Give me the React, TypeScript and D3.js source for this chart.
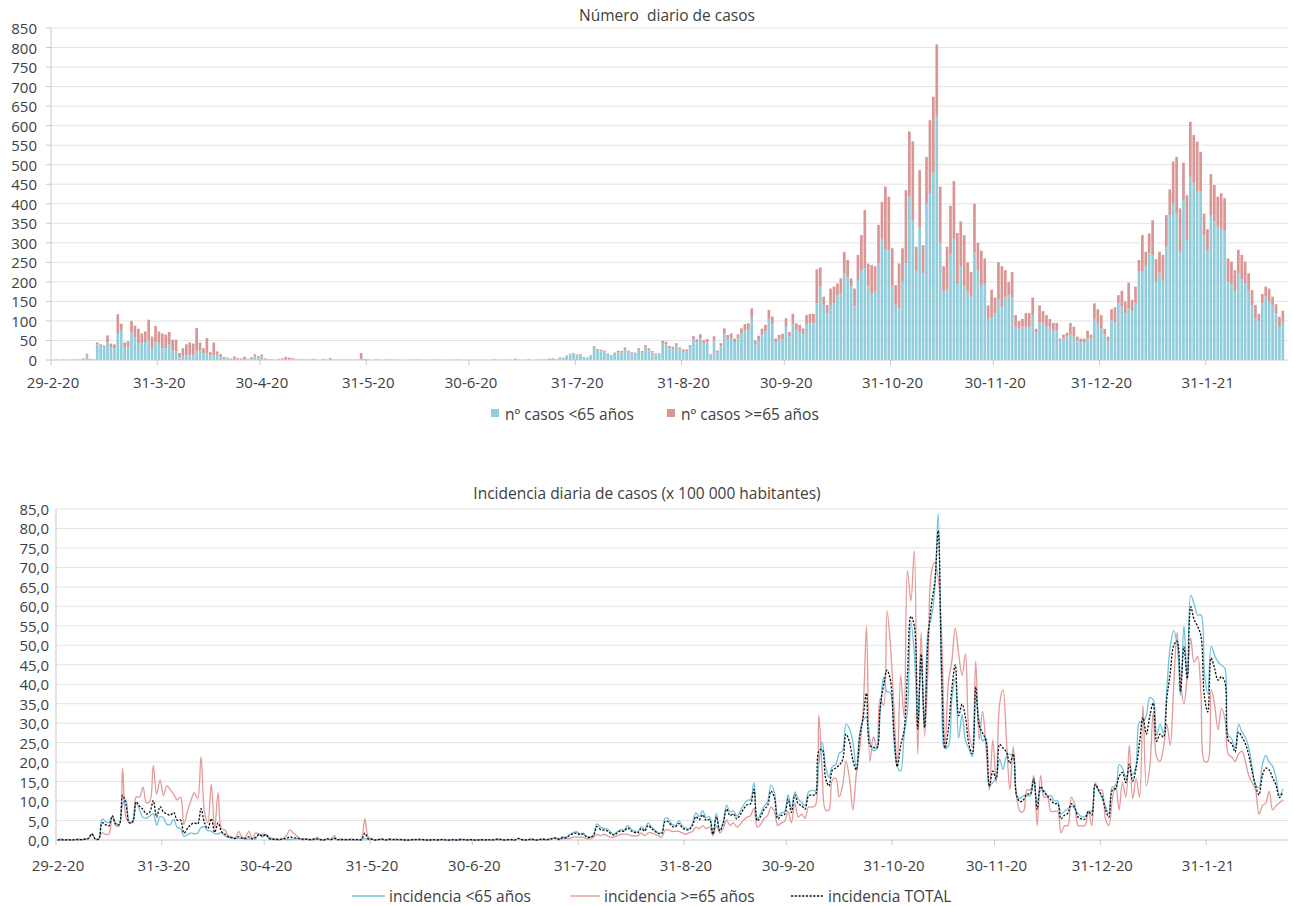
import React from 'react';
import * as d3 from 'd3';

// ---- DATA ----
const START_DATE = '29-2-20';
const END_DATE = '24-2-21'; // right edge of the date axis (exclusive)

// daily cases, people under 65 (29-2-20 ... 22-2-21)
const casesUnder65 = [
  // 29 Feb - 12 Mar
  0,0,0,1,0,1,0,1,1,3,12,2,1,
  // 13 Mar - 30 Mar
  40,36,33,46,32,30,67,77,33,34,70,58,43,42,46,51,28,45,
  // 31 Mar - 19 Apr
  42,30,30,40,24,22,7,10,13,12,13,24,25,18,17,12,12,14,8,5,
  // 20 Apr - 9 May
  4,3,3,3,2,2,2,2,11,6,10,2,1,2,1,2,1,1,1,2,
  // 10 May - 30 May
  2,2,1,1,2,1,1,0,2,1,2,1,0,1,1,0,1,1,0,3,1,
  // 31 May - 30 Jun
  1,0,1,1,0,2,1,0,1,1,0,0,1,1,0,1,0,0,1,0,1,1,0,0,1,0,0,1,0,1,0,
  // 1 Jul - 27 Jul
  0,1,0,1,0,1,2,1,0,1,1,0,3,1,0,1,2,0,1,2,1,2,3,4,2,6,5,
  // 28 Jul - 31 Aug
  11,14,16,12,13,7,6,10,31,25,22,21,15,11,16,20,19,28,21,17,16,25,20,33,25,19,14,15,42,40,30,28,37,27,23,
  // 1 Sep - 30 Sep
  22,32,52,45,56,43,45,12,51,19,35,67,54,56,46,55,67,76,77,110,41,51,65,73,105,91,45,52,54,87,
  // 1 Oct - 31 Oct
  60,92,78,72,66,92,95,94,145,188,141,120,141,145,166,171,222,213,188,137,205,230,235,192,171,175,247,311,284,282,192,
  // 1 Nov - 30 Nov
  141,132,200,247,418,358,230,341,222,400,427,480,625,300,175,180,270,310,195,240,190,175,160,275,230,190,195,105,110,120,
  // 1 Dec - 31 Dec
  155,135,160,165,160,85,80,85,85,85,115,70,95,95,85,85,75,75,50,55,60,65,60,50,45,45,55,55,105,95,80,
  // 1 Jan - 31 Jan
  65,50,102,96,145,137,120,132,125,145,226,226,239,273,269,200,222,205,290,371,401,375,277,410,307,469,452,431,431,320,280,
  // 1 Feb - 22 Feb
  371,354,341,335,329,200,194,175,222,207,197,177,139,106,100,145,162,149,141,119,85,98,
];

// daily cases, people aged 65 or more
const casesOver65 = [
  0,1,0,0,0,0,1,0,1,1,4,1,1,
  5,4,4,17,10,10,50,16,12,14,30,30,37,26,27,52,32,42,
  31,38,35,32,28,30,11,20,27,33,29,58,20,12,39,8,33,8,7,3,
  2,1,6,2,2,6,1,5,4,4,4,2,1,0,0,1,3,7,5,3,
  1,0,1,0,0,2,0,0,1,0,3,0,1,0,0,1,0,0,1,15,2,
  1,0,0,1,0,0,0,1,0,0,0,0,0,0,1,0,0,0,0,0,0,0,0,0,0,0,1,0,0,0,0,
  0,0,0,0,0,0,0,0,0,0,0,0,1,0,0,0,0,0,0,0,0,0,1,1,0,1,1,
  1,2,2,2,2,1,1,2,4,3,4,3,2,2,3,4,4,4,3,3,3,5,3,5,5,4,3,2,7,7,6,6,6,5,4,
  5,6,9,8,10,8,9,3,10,5,8,14,10,12,9,11,14,16,17,22,9,11,15,17,23,20,10,12,13,20,
  12,26,16,18,15,23,23,24,87,49,21,21,42,43,30,38,55,43,21,46,64,90,149,55,72,65,99,94,160,136,94,
  51,115,86,188,167,202,60,145,72,120,187,194,183,144,65,110,125,148,130,115,130,75,65,125,70,90,65,35,70,40,
  95,105,70,35,65,30,20,20,35,35,45,10,45,30,30,20,20,20,5,10,10,30,25,10,10,10,20,10,40,35,35,
  15,10,28,39,21,40,30,66,29,43,30,94,38,51,89,58,55,64,81,66,107,145,111,95,115,141,124,128,102,55,55,
  105,94,77,92,85,60,58,55,60,62,55,45,40,35,18,24,26,34,21,24,26,28,
];

// population of each age group (for the incidence per 100 000)
const POP_UNDER65 = 746000;
const POP_OVER65 = 272000;

const dateTickLabels = ['29-2-20','31-3-20','30-4-20','31-5-20','30-6-20','31-7-20','31-8-20','30-9-20','31-10-20','30-11-20','31-12-20','31-1-21'];
const casesTicks = [0,50,100,150,200,250,300,350,400,450,500,550,600,650,700,750,800,850];
const incidenceTicks = [0,5,10,15,20,25,30,35,40,45,50,55,60,65,70,75,80,85];

const TITLE_TOP = 'Número  diario de casos';
const TITLE_BOTTOM = 'Incidencia diaria de casos (x 100 000 habitantes)';
const LEGEND_TOP = ['nº casos <65 años', 'nº casos >=65 años'];
const LEGEND_BOTTOM = ['incidencia <65 años', 'incidencia >=65 años', 'incidencia TOTAL'];

// ---- styles ----
const FONT = '"Open Sans", "Noto Sans", sans-serif';
const TEXT = '#404040';
const GRID = '#e3e3e3';
const AXIS = '#c8c8c8';
const BLUE_BAR = '#92CDDC';
const RED_BAR = '#D99694';
const BLUE_LINE = '#6FC3DF';
const RED_LINE = '#E39A98';

const parse = d3.timeParse('%d-%m-%y');
const start = parse(START_DATE) as Date;
const nDays = d3.timeDay.count(start, parse(END_DATE) as Date);
const dayIndex = (s: string) => d3.timeDay.count(start, parse(s) as Date);

const fmtComma = (v: number) => v.toFixed(1).replace('.', ',');

export default function App() {
  const W = 1293, H = 906;

  // top chart scales
  const xTop = d3.scaleLinear().domain([0, nDays]).range([51, 1288]);
  const yTop = d3.scaleLinear().domain([0, 850]).range([360, 28]);
  // bottom chart scales
  const xBot = d3.scaleLinear().domain([0, nDays]).range([56, 1288]);
  const yBot = d3.scaleLinear().domain([0, 85]).range([840, 509]);

  const rows = casesUnder65.map((u, i) => {
    const o = casesOver65[i] ?? 0;
    return {
      i,
      u,
      o,
      incU: (u / POP_UNDER65) * 1e5,
      incO: (o / POP_OVER65) * 1e5,
      incT: ((u + o) / (POP_UNDER65 + POP_OVER65)) * 1e5,
    };
  });

  const dayW = xTop(1) - xTop(0);
  const barW = dayW * 0.78;

  const mkLine = (key: 'incU' | 'incO' | 'incT') =>
    d3
      .line<any>()
      .x((d) => xBot(d.i + 0.5))
      .y((d) => yBot(d[key]))
      .curve(d3.curveCatmullRom.alpha(0.5))(rows) as string;

  return (
    <svg
      width={W}
      height={H}
      style={{ position: 'absolute', left: 0, top: 0, background: '#fff' }}
      fontFamily={FONT}
    >
      <rect x={0} y={0} width={W} height={H} fill="#fff" />

      {/* ================= TOP CHART ================= */}
      <text x={667} y={15} textAnchor="middle" dominantBaseline="central" fontSize={15.5} fill={TEXT} style={{ whiteSpace: 'pre' }}>
        {TITLE_TOP}
      </text>
      {casesTicks.map((t) => (
        <g key={'gt' + t}>
          {t > 0 && <line x1={51} x2={1288} y1={yTop(t)} y2={yTop(t)} stroke={GRID} strokeWidth={1} />}
          <line x1={46} x2={51} y1={yTop(t)} y2={yTop(t)} stroke={AXIS} strokeWidth={1} />
          <text x={37} y={yTop(t)} textAnchor="end" dominantBaseline="central" fontSize={15} fill={TEXT}>
            {t}
          </text>
        </g>
      ))}
      <line x1={51} x2={51} y1={28} y2={360} stroke={AXIS} strokeWidth={1} />
      {rows.map((r) => {
        const x0 = xTop(r.i) + (dayW - barW) / 2;
        return (
          <g key={'b' + r.i}>
            <rect x={x0} width={barW} y={yTop(r.u)} height={yTop(0) - yTop(r.u)} fill={BLUE_BAR} />
            <rect x={x0} width={barW} y={yTop(r.u + r.o)} height={yTop(r.u) - yTop(r.u + r.o)} fill={RED_BAR} />
          </g>
        );
      })}
      <line x1={51} x2={1288} y1={360} y2={360} stroke={AXIS} strokeWidth={1} />
      {dateTickLabels.map((l) => {
        const x = xTop(dayIndex(l));
        return (
          <g key={'tx' + l}>
            <line x1={x} x2={x} y1={360} y2={365} stroke={AXIS} strokeWidth={1} />
            <text x={x + 2} y={381.5} textAnchor="middle" dominantBaseline="central" fontSize={15} fill={TEXT}>
              {l}
            </text>
          </g>
        );
      })}
      {/* legend top */}
      <rect x={491} y={409} width={8} height={8} fill={BLUE_BAR} />
      <text x={505} y={413.5} dominantBaseline="central" fontSize={15.5} fill={TEXT}>
        {LEGEND_TOP[0]}
      </text>
      <rect x={667} y={409} width={8} height={8} fill={RED_BAR} />
      <text x={681} y={413.5} dominantBaseline="central" fontSize={15.5} fill={TEXT}>
        {LEGEND_TOP[1]}
      </text>

      {/* ================= BOTTOM CHART ================= */}
      <text x={647} y={493} textAnchor="middle" dominantBaseline="central" fontSize={15.5} fill={TEXT}>
        {TITLE_BOTTOM}
      </text>
      {incidenceTicks.map((t) => (
        <g key={'gb' + t}>
          {t > 0 && <line x1={56} x2={1288} y1={yBot(t)} y2={yBot(t)} stroke={GRID} strokeWidth={1} />}
          <text x={49} y={yBot(t)} textAnchor="end" dominantBaseline="central" fontSize={15} fill={TEXT}>
            {fmtComma(t)}
          </text>
        </g>
      ))}
      <line x1={56} x2={56} y1={509} y2={840} stroke={AXIS} strokeWidth={1} />
      <line x1={56} x2={1288} y1={840} y2={840} stroke={AXIS} strokeWidth={1} />
      {dateTickLabels.map((l) => {
        const x = xBot(dayIndex(l));
        return (
          <g key={'bx' + l}>
            <line x1={x} x2={x} y1={840} y2={845} stroke={AXIS} strokeWidth={1} />
            <text x={x + 2} y={865} textAnchor="middle" dominantBaseline="central" fontSize={15} fill={TEXT}>
              {l}
            </text>
          </g>
        );
      })}
      <path d={mkLine('incO')} fill="none" stroke={RED_LINE} strokeWidth={1.3} />
      <path d={mkLine('incU')} fill="none" stroke={BLUE_LINE} strokeWidth={1.3} />
      <path d={mkLine('incT')} fill="none" stroke="#111" strokeWidth={1.3} strokeDasharray="2.2,1.5" />

      {/* legend bottom */}
      <line x1={352} x2={385} y1={896} y2={896} stroke={BLUE_LINE} strokeWidth={1.3} />
      <text x={389} y={896} dominantBaseline="central" fontSize={15.5} fill={TEXT}>
        {LEGEND_BOTTOM[0]}
      </text>
      <line x1={570} x2={600} y1={896} y2={896} stroke={RED_LINE} strokeWidth={1.3} />
      <text x={604} y={896} dominantBaseline="central" fontSize={15.5} fill={TEXT}>
        {LEGEND_BOTTOM[1]}
      </text>
      <line x1={791} x2={824} y1={896} y2={896} stroke="#111" strokeWidth={1.3} strokeDasharray="2.2,1.5" />
      <text x={828} y={896} dominantBaseline="central" fontSize={15.5} fill={TEXT}>
        {LEGEND_BOTTOM[2]}
      </text>
    </svg>
  );
}
